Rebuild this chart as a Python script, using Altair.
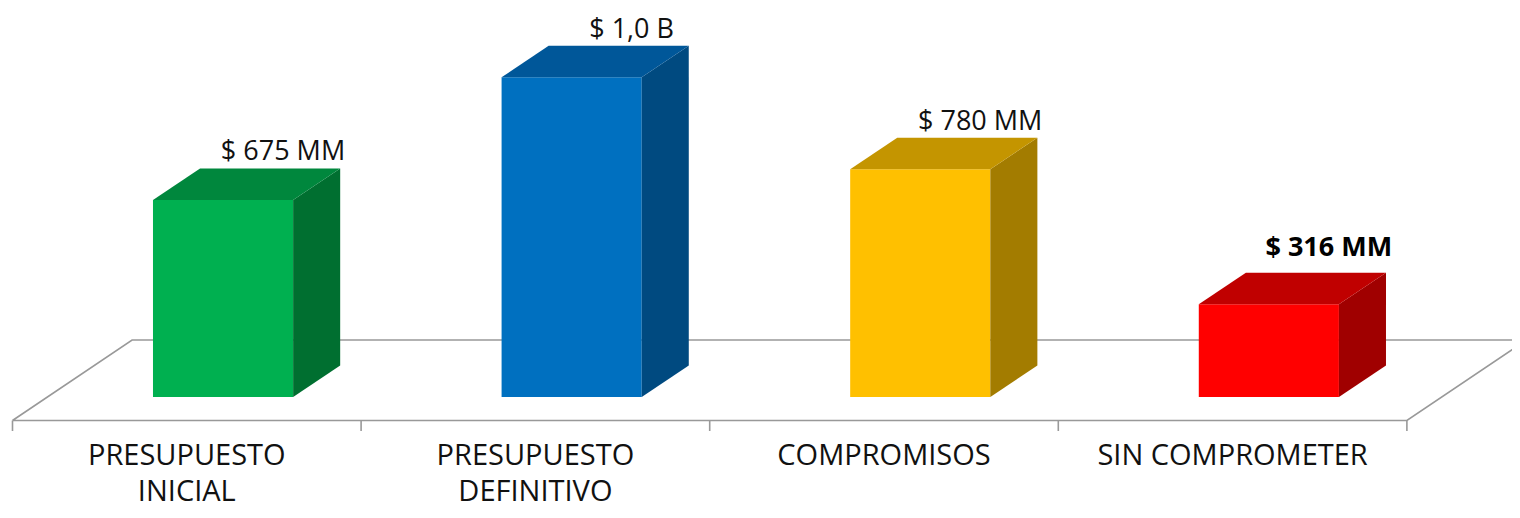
import altair as alt
import pandas as pd

# ---- data ----
categories = ["PRESUPUESTO INICIAL", "PRESUPUESTO DEFINITIVO", "COMPROMISOS", "SIN COMPROMETER"]
category_lines = ["PRESUPUESTO\nINICIAL", "PRESUPUESTO\nDEFINITIVO", "COMPROMISOS", "SIN COMPROMETER"]
values = [675, 1095, 780, 318]  # MM
value_labels = ["$ 675 MM", "$ 1,0 B", "$ 780 MM", "$ 316 MM"]
bold_label = [False, False, False, True]
front_colors = ["#00B050", "#0070C0", "#FFC000", "#FF0000"]
top_colors = ["#00873D", "#005799", "#C49500", "#C00000"]
side_colors = ["#006F30", "#004A80", "#A37C00", "#A00000"]

# ---- 3D geometry (in scale units) ----
BAR_LEFT = 0.403     # offset of front face inside each category slot
BAR_RIGHT = 0.805
DEPTH_X = 0.135      # oblique depth, x units
DEPTH_Y = 108        # oblique depth, value units
FLOOR_FRONT = -80.5
FLOOR_BACK = 195.3
FLOOR_DX = 0.343
TICK_LEN = 36
LABEL_Y = -233
VALUE_LABEL_DX = 0.776

X_DOMAIN = [-0.0129, 4.3015]
Y_DOMAIN = [-387.1, 1332.6]

n = len(categories)
xs = alt.Scale(domain=X_DOMAIN, nice=False, zero=False)
ys = alt.Scale(domain=Y_DOMAIN, nice=False, zero=False)

front = pd.DataFrame({
    "cat": categories,
    "x": [i + BAR_LEFT for i in range(n)],
    "x2": [i + BAR_RIGHT for i in range(n)],
    "y": [0] * n,
    "y2": values,
    "color": front_colors,
})

side_rows, top_rows = [], []
for i in range(n):
    v = values[i]
    side_rows.append({"cat": categories[i], "x": i + BAR_RIGHT, "y": 0, "y2": v, "color": side_colors[i]})
    side_rows.append({"cat": categories[i], "x": i + BAR_RIGHT + DEPTH_X, "y": DEPTH_Y, "y2": v + DEPTH_Y, "color": side_colors[i]})
    top_rows.append({"cat": categories[i], "y": v, "x": i + BAR_LEFT, "x2": i + BAR_RIGHT, "color": top_colors[i]})
    top_rows.append({"cat": categories[i], "y": v + DEPTH_Y, "x": i + BAR_LEFT + DEPTH_X, "x2": i + BAR_RIGHT + DEPTH_X, "color": top_colors[i]})
side = pd.DataFrame(side_rows)
top = pd.DataFrame(top_rows)

floor = pd.DataFrame({
    "x": [0, n, n + FLOOR_DX, FLOOR_DX, 0],
    "y": [FLOOR_FRONT, FLOOR_FRONT, FLOOR_BACK, FLOOR_BACK, FLOOR_FRONT],
    "o": [0, 1, 2, 3, 4],
})
ticks = pd.DataFrame({"x": list(range(n + 1)), "y": [FLOOR_FRONT] * (n + 1),
                      "y2": [FLOOR_FRONT - TICK_LEN] * (n + 1)})

cat_labels = pd.DataFrame({"x": [i + 0.5 for i in range(n)], "y": [LABEL_Y] * n, "t": category_lines})
val_labels = pd.DataFrame({
    "x": [i + VALUE_LABEL_DX for i in range(n)],
    "y": [v + DEPTH_Y for v in values],
    "t": value_labels,
    "bold": bold_label,
})

FONT = "Open Sans"
GRAY = "#999999"

floor_l = alt.Chart(floor).mark_line(color=GRAY, strokeWidth=1.6).encode(
    x=alt.X("x:Q", scale=xs, axis=None), y=alt.Y("y:Q", scale=ys, axis=None), order="o:Q")
ticks_l = alt.Chart(ticks).mark_rule(color=GRAY, strokeWidth=1.6).encode(
    x=alt.X("x:Q", scale=xs, axis=None), y=alt.Y("y:Q", scale=ys, axis=None), y2="y2:Q")
front_l = alt.Chart(front).mark_rect().encode(
    x=alt.X("x:Q", scale=xs, axis=None), x2="x2:Q",
    y=alt.Y("y:Q", scale=ys, axis=None), y2="y2:Q",
    color=alt.Color("color:N", scale=None))
side_l = alt.Chart(side).mark_area(orient="vertical").encode(
    x=alt.X("x:Q", scale=xs, axis=None),
    y=alt.Y("y:Q", scale=ys, axis=None), y2="y2:Q",
    detail="cat:N", color=alt.Color("color:N", scale=None))
top_l = alt.Chart(top).mark_area(orient="horizontal").encode(
    y=alt.Y("y:Q", scale=ys, axis=None),
    x=alt.X("x:Q", scale=xs, axis=None), x2="x2:Q",
    detail="cat:N", color=alt.Color("color:N", scale=None))
cat_l = alt.Chart(cat_labels).mark_text(font=FONT, fontSize=29, color="#111111", align="center",
                                        baseline="alphabetic", lineBreak="\n", lineHeight=36).encode(
    x=alt.X("x:Q", scale=xs, axis=None), y=alt.Y("y:Q", scale=ys, axis=None), text="t:N")
val_norm = alt.Chart(val_labels).transform_filter("!datum.bold").mark_text(
    font=FONT, fontSize=27, color="#111111", align="center", baseline="alphabetic", dy=-8).encode(
    x=alt.X("x:Q", scale=xs, axis=None), y=alt.Y("y:Q", scale=ys, axis=None), text="t:N")
val_bold = alt.Chart(val_labels).transform_filter("datum.bold").mark_text(
    font=FONT, fontSize=27, fontWeight="bold", color="#000000", align="center", baseline="alphabetic", dy=-17).encode(
    x=alt.X("x:Q", scale=xs, axis=None), y=alt.Y("y:Q", scale=ys, axis=None), text="t:N")

chart = alt.layer(floor_l, ticks_l, front_l, side_l, top_l, cat_l, val_norm, val_bold).properties(
    width=1504, height=502, autosize=alt.AutoSizeParams(type="none"), padding=0, background="white"
).configure_view(strokeWidth=0)

chart.save("out.html", embed_options={"renderer": "svg", "actions": False})
